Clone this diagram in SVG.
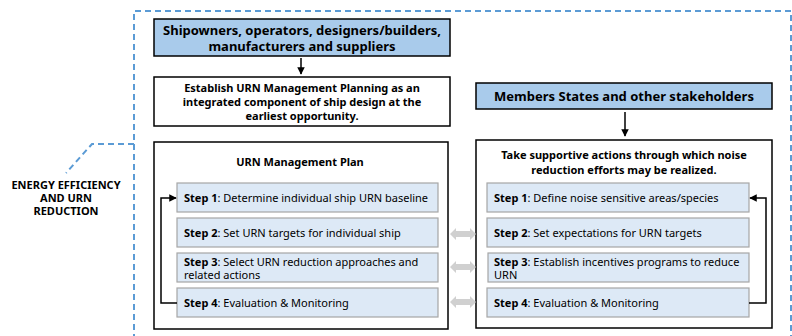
<svg xmlns="http://www.w3.org/2000/svg" width="792" height="336" viewBox="0 0 792 336">
<defs>
<marker id="ah" viewBox="0 0 10 10" refX="9" refY="5" markerWidth="5" markerHeight="5" orient="auto"><path d="M0,0 L10,5 L0,10 z" fill="#000"/></marker>
<style>
text{font-family:"Noto Sans","Open Sans","Liberation Sans",sans-serif;fill:#000}
.hd{font-size:13px;font-weight:bold}
.sb{font-size:11px;font-weight:bold}
.st{font-size:11px}
.hb{fill:#a9cbeb;stroke:#000;stroke-width:1.5}
.wb{fill:#fff;stroke:#000;stroke-width:1.5}
.sp{fill:#dde9f6;stroke:#a6a6a6;stroke-width:1.2}
.dash{fill:none;stroke:#5b9bd5;stroke-width:2;stroke-dasharray:6 4}
.ln{fill:none;stroke:#000;stroke-width:1.5}
.ga{fill:#d0d0d0}
</style>
</defs>
<rect width="792" height="336" fill="#fff"/>
<g id="frame">
<path class="dash" d="M134,340 V11 H791 V340"/>
<path class="dash" d="M134,144 H92 L66,173"/>
</g>
<g id="label">
<text class="sb" text-anchor="middle" font-size="10"><tspan x="66" y="189">ENERGY EFFICIENCY</tspan><tspan x="66" y="202">AND URN</tspan><tspan x="66" y="215">REDUCTION</tspan></text>
</g>
<g id="shipowners">
<rect class="hb" x="154" y="19" width="296" height="37"/>
<text class="hd" text-anchor="middle"><tspan x="302" y="35">Shipowners, operators, designers/builders,</tspan><tspan x="302" y="51">manufacturers and suppliers</tspan></text>
</g>
<g id="establish">
<rect class="wb" x="154" y="77" width="296" height="49"/>
<text class="sb" text-anchor="middle"><tspan x="302" y="92">Establish URN Management Planning as an</tspan><tspan x="302" y="106">integrated component of ship design at the</tspan><tspan x="302" y="120">earliest opportunity.</tspan></text>
</g>
<g id="members">
<rect class="hb" x="476" y="83" width="296" height="26"/>
<text class="hd" text-anchor="middle" x="624" y="101">Members States and other stakeholders</text>
</g>
<g id="plan">
<rect class="wb" x="154" y="142" width="294" height="187"/>
<text class="sb" font-size="12" text-anchor="middle" x="300" y="166">URN Management Plan</text>
</g>
<g id="support">
<rect class="wb" x="476" y="140" width="296" height="188"/>
<text class="sb" text-anchor="middle"><tspan x="624" y="159">Take supportive actions through which noise</tspan><tspan x="624" y="174">reduction efforts may be realized.</tspan></text>
</g>
<g id="l-step1"><rect class="sp" x="177" y="183" width="261" height="29"/><text class="st" x="184" y="202"><tspan class="sb">Step 1</tspan>: Determine individual ship URN baseline</text></g>
<g id="l-step2"><rect class="sp" x="177" y="218" width="261" height="29"/><text class="st" x="184" y="237"><tspan class="sb">Step 2</tspan>: Set URN targets for individual ship</text></g>
<g id="l-step3"><rect class="sp" x="177" y="253" width="261" height="29"/><text class="st" x="184" y="266"><tspan class="sb">Step 3</tspan>: Select URN reduction approaches and</text><text class="st" x="184" y="279">related actions</text></g>
<g id="l-step4"><rect class="sp" x="177" y="288" width="261" height="29"/><text class="st" x="184" y="307"><tspan class="sb">Step 4</tspan>: Evaluation &amp; Monitoring</text></g>
<g id="r-step1"><rect class="sp" x="487" y="183" width="262" height="29"/><text class="st" x="494" y="202"><tspan class="sb">Step 1</tspan>: Define noise sensitive areas/species</text></g>
<g id="r-step2"><rect class="sp" x="487" y="218" width="262" height="29"/><text class="st" x="494" y="237"><tspan class="sb">Step 2</tspan>: Set expectations for URN targets</text></g>
<g id="r-step3"><rect class="sp" x="488" y="253" width="261" height="29"/><text class="st" x="494" y="266"><tspan class="sb">Step 3</tspan>: Establish incentives programs to reduce</text><text class="st" x="494" y="279">URN</text></g>
<g id="r-step4"><rect class="sp" x="487" y="288" width="262" height="29"/><text class="st" x="494" y="307"><tspan class="sb">Step 4</tspan>: Evaluation &amp; Monitoring</text></g>
<g id="connectors">
<path class="ln" d="M301,58 V74" marker-end="url(#ah)"/>
<path class="ln" d="M625,112 V136" marker-end="url(#ah)"/>
<path class="ln" d="M177,303 H161 V198 H176" marker-end="url(#ah)"/>
<path class="ln" d="M749,303 H766 V198 H750" marker-end="url(#ah)"/>
<path class="ga" d="M450,234 L456,228 V231 H470 V228 L476,234 L470,240 V237 H456 V240 z"/>
<path class="ga" d="M450,267 L456,261 V264 H470 V261 L476,267 L470,273 V270 H456 V273 z"/>
<path class="ga" d="M450,302 L456,296 V299 H470 V296 L476,302 L470,308 V305 H456 V308 z"/>
</g>
</svg>
